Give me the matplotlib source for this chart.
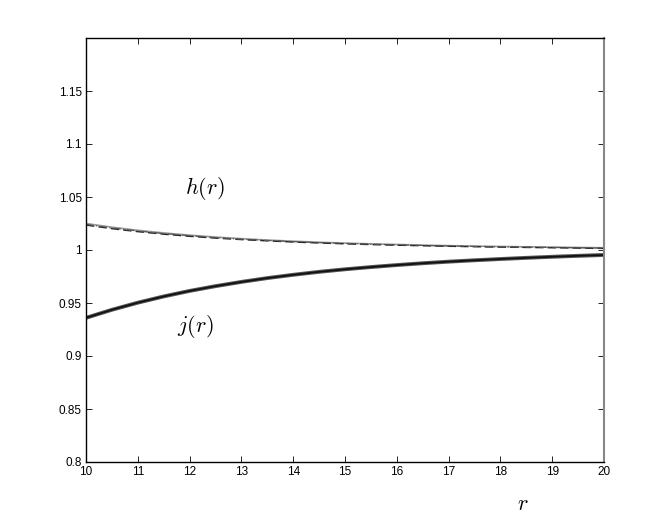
import matplotlib
matplotlib.use("Agg")
import matplotlib.pyplot as plt

r = [10, 10.5, 11, 11.5, 12, 12.5, 13, 13.5, 14, 14.5, 15, 15.5, 16, 16.5, 17, 17.5, 18, 18.5, 19, 19.5, 20]
j_vals = [0.9360, 0.9436, 0.9503, 0.9562, 0.9614, 0.9659, 0.9699, 0.9735, 0.9766, 0.9794, 0.9818,
          0.9839, 0.9858, 0.9875, 0.9890, 0.9903, 0.9915, 0.9926, 0.9936, 0.9945, 0.9953]
h_solid = [1.0250, 1.0215, 1.0186, 1.0161, 1.0140, 1.0122, 1.0107, 1.0094, 1.0083, 1.0073, 1.0065,
           1.0058, 1.0052, 1.0046, 1.0041, 1.0037, 1.0033, 1.0030, 1.0027, 1.0024, 1.0021]
h_dash = [1.0235, 1.0201, 1.0173, 1.0149, 1.0129, 1.0112, 1.0098, 1.0086, 1.0075, 1.0066, 1.0058,
          1.0051, 1.0045, 1.0040, 1.0035, 1.0031, 1.0027, 1.0024, 1.0021, 1.0018, 1.0015]
h_dashdot = [1.0242, 1.0208, 1.0179, 1.0155, 1.0135, 1.0117, 1.0102, 1.0090, 1.0079, 1.0070, 1.0062,
             1.0055, 1.0049, 1.0043, 1.0038, 1.0034, 1.0030, 1.0027, 1.0024, 1.0021, 1.0018]
xticks = list(range(10, 21))
yticks = [0.8, 0.85, 0.9, 0.95, 1.0, 1.05, 1.1, 1.15]
yticklabels = ["0.8", "0.85", "0.9", "0.95", "1", "1.05", "1.1", "1.15"]

plt.rcParams['font.family'] = ['Liberation Sans', 'DejaVu Sans']
plt.rcParams['mathtext.fontset'] = 'cm'

fig = plt.figure(figsize=(6.64, 5.19), dpi=100)
ax = fig.add_axes([86/664, 1 - 462/519, (604-86)/664, (462-38)/519])

ax.plot(r, h_solid, color='#999999', lw=1.2, ls='-')
ax.plot(r, h_dash, color='#222222', lw=1.0, ls=(0, (6, 3)))
ax.plot(r, h_dashdot, color='#555555', lw=0.9, ls=(0, (6, 2, 1, 2)))
ax.plot(r, j_vals, color='#555555', lw=2.8, solid_capstyle='butt')
ax.plot(r, j_vals, color='#111111', lw=1.3)

ax.set_xlim(10, 20)
ax.set_ylim(0.8, 1.2)
ax.set_xticks(xticks)
ax.set_xticklabels([str(t) for t in xticks])
ax.set_yticks(yticks)
ax.set_yticklabels(yticklabels)
ax.tick_params(direction='in', top=True, right=True, labelsize=8.5, length=4, width=0.6, pad=3)
for s in ax.spines.values():
    s.set_linewidth(1.0)
ax.spines['right'].set_color('#888888')
ax.spines['right'].set_linewidth(1.5)

ax.text(12.3, 1.058, r'$h(r)$', fontsize=16, ha='center', va='center')
ax.text(12.1, 0.928, r'$j(r)$', fontsize=16, ha='center', va='center')
fig.text(523/664, 1 - 505/519, r'$r$', fontsize=16, ha='center', va='center')

fig.savefig('out.png', dpi=100)
